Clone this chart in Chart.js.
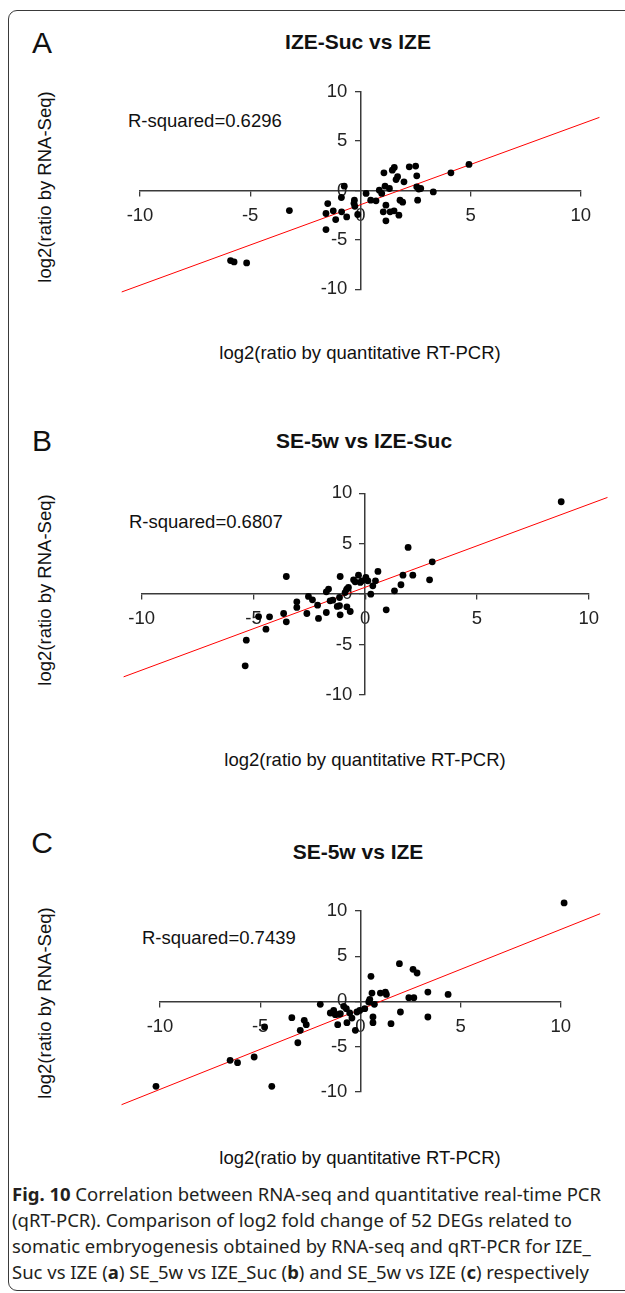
<!DOCTYPE html>
<html>
<head>
<meta charset="utf-8">
<script src="https://cdn.jsdelivr.net/npm/chart.js@4.4.1/dist/chart.umd.min.js"></script>
<style>
  body { margin: 0; background: #fff; }
  #page { position: relative; width: 625px; height: 1293px; overflow: hidden; font-family: "Liberation Sans", Arial, sans-serif; color: #111; }
  #frame { position: absolute; left: 8px; top: 10px; width: 700px; height: 1279px; border: 1.5px solid #3a3a3a; border-radius: 9px; }
  canvas { position: absolute; left: 0; }
  .t { position: absolute; white-space: nowrap; transform: translate(-50%, -50%); line-height: 1; }
  .letter { font-size: 30px; }
  .title { font-size: 21px; font-weight: bold; }
  .lab { font-size: 18.5px; }
  .r2 { position: absolute; white-space: nowrap; font-size: 18.5px; line-height: 1; }
  .ylab { font-size: 18.5px; transform: translate(-50%, -50%) rotate(-90deg); }
  #caption { position: absolute; left: 12px; top: 1181px; font-family: "Noto Sans", "Open Sans", sans-serif; font-size: 18.5px; line-height: 26px; color: #231f20; white-space: nowrap; }
</style>
</head>
<body>
<div id="page">
  <div id="frame"></div>

  <div class="t letter" style="left:42px; top:43px;">A</div>
  <div class="t title" style="left:358px; top:41px;">IZE-Suc vs IZE</div>
  <div class="r2" style="left:128px; top:112px;">R-squared=0.6296</div>
  <div class="t ylab" style="left:45px; top:187px;">log2(ratio by RNA-Seq)</div>
  <div class="t lab" style="left:360px; top:353px;">log2(ratio by quantitative RT-PCR)</div>
  <canvas id="chartA" width="625" height="270" style="top:60px;"></canvas>

  <div class="t letter" style="left:42px; top:441px;">B</div>
  <div class="t title" style="left:364px; top:440px;">SE-5w vs IZE-Suc</div>
  <div class="r2" style="left:129px; top:513px;">R-squared=0.6807</div>
  <div class="t ylab" style="left:45px; top:590px;">log2(ratio by RNA-Seq)</div>
  <div class="t lab" style="left:365px; top:760px;">log2(ratio by quantitative RT-PCR)</div>
  <canvas id="chartB" width="625" height="270" style="top:460px;"></canvas>

  <div class="t letter" style="left:42px; top:843px;">C</div>
  <div class="t title" style="left:358px; top:851px;">SE-5w vs IZE</div>
  <div class="r2" style="left:142px; top:929px;">R-squared=0.7439</div>
  <div class="t ylab" style="left:45px; top:1003px;">log2(ratio by RNA-Seq)</div>
  <div class="t lab" style="left:360px; top:1158px;">log2(ratio by quantitative RT-PCR)</div>
  <canvas id="chartC" width="625" height="250" style="top:880px;"></canvas>

  <div id="caption"><b>Fig. 10</b> Correlation between RNA-seq and quantitative real-time PCR<br>(qRT-PCR). Comparison of log2 fold change of 52 DEGs related to<br>somatic embryogenesis obtained by RNA-seq and qRT-PCR for IZE_<br>Suc vs IZE (<b>a</b>) SE_5w vs IZE_Suc (<b>b</b>) and SE_5w vs IZE (<b>c</b>) respectively</div>
</div>

<script>
// tick values used on both axes of every panel
const tickValues = [-10, -5, 0, 5, 10];

// A: IZE-Suc vs IZE  (x = qRT-PCR log2 ratio, y = RNA-Seq log2 ratio)
const aPcr = [-5.89, -5.73, -5.16, -3.22, -1.48, -1.56, -1.23, -1.12, -1.56, -0.86, -0.73, -0.85,
  -0.62, -0.27, -0.29, -0.25, -0.12, 0.26, 0.47, 0.71, 0.86, 0.97, 1.07, 1.12, 1.32, 1.04, 1.16,
  1.16, 1.35, 1.53, 1.45, 1.54, 1.62, 1.69, 1.75, 1.80, 1.92, 1.98, 2.22, 2.51, 2.56, 2.56, 2.65,
  2.74, 2.60, 3.31, 4.11, 4.93];
const aSeq = [-7.09, -7.23, -7.33, -2.03, -1.32, -2.33, -2.06, -2.94, -3.95, -0.71, 0.44, -2.16,
  -2.67, -0.98, -1.30, -1.60, -2.43, -0.30, -0.98, -1.05, 0.03, -0.30, 1.79, 0.44, 0.20, -2.16, -1.49,
  -3.07, -2.16, -2.06, 2.06, 2.33, 1.11, 1.39, -2.50, -0.98, -1.18, 0.88, 2.40, 2.47, 1.49, 0.37, 0.14,
  0.20, -0.98, -0.14, 1.79, 2.64];
const aFitX = [-10.83, 10.85];
const aFitY = [-10.27, 7.40];

// B: SE-5w vs IZE-Suc
const bPcr = [8.77, 1.92, 3.00, 2.88, 2.13, 1.69, 1.60, 1.31, 0.94, 0.57, 0.46, 0.34, 0.25, 0.03,
  0.12, -0.30, -0.22, -0.15, -0.52, -0.45, -0.75, -0.82, -0.90, -1.12, -1.15, -1.15, -1.25, -0.82,
  -0.67, -1.12, -1.45, -1.57, -1.64, -1.74, -1.74, -2.09, -2.13, -2.36, -2.54, -2.61, -3.06, -3.06,
  -3.53, -3.53, -3.65, -4.28, -4.44, -4.77, -5.32, -5.37];
const bSeq = [9.16, 4.63, 3.21, 1.42, 1.88, 1.88, 0.93, 0.33, -1.55, 2.25, 1.32, 0.83, 0.00, 1.65,
  1.32, 1.88, 1.16, 1.32, 1.42, 1.22, 0.66, 0.50, 0.16, 1.75, -0.33, -1.15, -1.22, -1.26,
  -1.72, -2.05, -0.60, -0.66, 0.50, 0.23, -1.82, -2.41, -1.09, -0.56, -0.23, -1.92, -1.32, -0.76,
  1.75, -2.74, -1.92, -2.25, -3.47, -2.22, -4.56, -7.11];
const bFitX = [-10.81, 10.84];
const bFitY = [-8.20, 9.59];

// C: SE-5w vs IZE
const cPcr = [10.17, -10.20, -6.50, -6.13, -5.30, -4.42, -4.78, -3.42, -3.12, -3.00, -2.80, -2.70,
  -2.00, -1.50, -1.33, -1.25, -1.08, -1.00, -1.13, -0.83, -0.70, -0.67, -0.53, -0.42, -0.25, -0.17,
  -0.03, 0.22, 0.47, 0.42, 0.53, 0.58, 0.63, 0.63, 0.70, 1.00, 1.25, 1.30, 1.53, 1.95, 2.00, 2.42,
  2.67, 2.63, 2.83, 3.37, 3.37, 4.38];
const cSeq = [10.89, -9.41, -6.53, -6.79, -6.16, -9.41, -2.84, -1.81, -4.58, -3.21, -2.10, -2.58,
  -0.33, -1.29, -1.00, -1.48, -1.44, -1.37, -2.58, -0.55, -0.81, -2.36, -1.29, -1.85, -3.21, -1.18,
  -1.00, -0.81, 0.22, -0.07, 2.77, 0.92, -1.73, -2.36, -0.33, 0.92, 1.03, 0.77, -2.47, 4.17, -1.18, 0.41,
  0.41, 3.54, 3.14, 1.03, -1.73, 0.77];
const cFitX = [-11.92, 11.97];
const cFitY = [-11.44, 9.70];

const axisColor = '#3a3a3a';
const tickFont = { family: 'Liberation Sans', size: 18.5 };

// points just past -10/10 would be skipped by chart.js, so widen the area while datasets draw
const looseArea = {
    id: 'looseArea',
    beforeDatasetsDraw(chart) {
        chart.$savedArea = Object.assign({}, chart.chartArea);
        Object.assign(chart.chartArea, { left: -1000, top: -1000, right: 3000, bottom: 3000 });
    },
    afterDatasetsDraw(chart) {
        Object.assign(chart.chartArea, chart.$savedArea);
    }
};

function pairs(xs, ys) {
    return xs.map((x, i) => ({ x: x, y: ys[i] }));
}

function fixTicks(scale) {
    scale.ticks = tickValues.map((v) => ({ value: v }));
}

function makeChart(id, xs, ys, fitX, fitY, pad) {
    return new Chart(document.getElementById(id), {
        type: 'scatter',
        data: {
            datasets: [
                {
                    type: 'line',
                    data: pairs(fitX, fitY),
                    borderColor: '#ff0000',
                    borderWidth: 1,
                    pointRadius: 0,
                    fill: false,
                    clip: false,
                    order: 2
                },
                {
                    data: pairs(xs, ys),
                    backgroundColor: '#000',
                    borderColor: '#000',
                    borderWidth: 0,
                    pointRadius: 3.4,
                    clip: false,
                    order: 1
                }
            ]
        },
        options: {
            responsive: false,
            animation: false,
            layout: { padding: pad },
            plugins: { legend: { display: false }, tooltip: { enabled: false } },
            scales: {
                x: {
                    type: 'linear', min: -10, max: 10,
                    position: { y: 0 },
                    afterBuildTicks: fixTicks,
                    grid: { drawOnChartArea: false, tickLength: 5, color: axisColor, lineWidth: 1.3 },
                    border: { color: axisColor, width: 1.5 },
                    ticks: { color: '#222', font: tickFont, padding: 9, maxRotation: 0, autoSkip: false }
                },
                y: {
                    type: 'linear', min: -10, max: 10,
                    position: { x: 0 },
                    afterBuildTicks: fixTicks,
                    grid: { drawOnChartArea: false, tickLength: 5, color: axisColor, lineWidth: 1.3 },
                    border: { color: axisColor, width: 1.5 },
                    ticks: {
                        color: '#222', font: tickFont, autoSkip: false,
                        // labels sit flush on a centred axis; an en + thin space keeps the gap
                        callback: (v) => v + '\u2002\u2009'
                    }
                }
            }
        },
        plugins: [looseArea]
    });
}

makeChart('chartA', aPcr, aSeq, aFitX, aFitY, { top: 31.7, bottom: 40.7, left: 140, right: 44.3 });
makeChart('chartB', bPcr, bSeq, bFitX, bFitY, { top: 33.3, bottom: 35, left: 141.7, right: 36.3 });
makeChart('chartC', cPcr, cSeq, cFitX, cFitY, { top: 31, bottom: 38.3, left: 160, right: 64.3 });
</script>
</body>
</html>
